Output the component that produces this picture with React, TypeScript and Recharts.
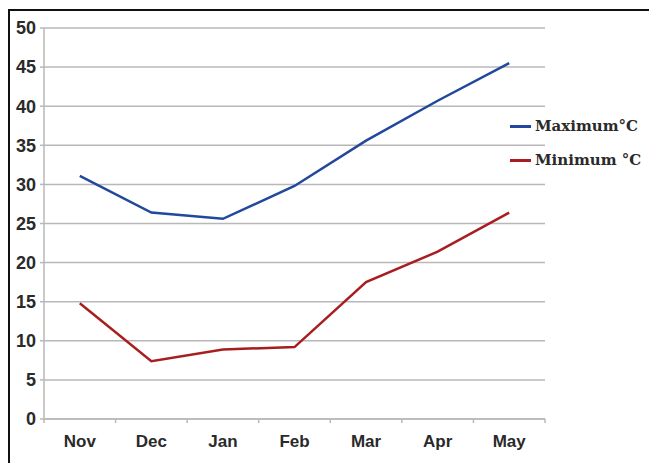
import { LineChart, Line, XAxis, YAxis, CartesianGrid } from 'recharts';

const months = ['Nov', 'Dec', 'Jan', 'Feb', 'Mar', 'Apr', 'May'];
const maxTemps = [31.1, 26.4, 25.6, 29.8, 35.6, 40.7, 45.5];
const minTemps = [14.8, 7.4, 8.9, 9.2, 17.5, 21.4, 26.4];
const yTicks = [0, 5, 10, 15, 20, 25, 30, 35, 40, 45, 50];

const series = [
  { key: 'max', name: 'Maximum°C', color: '#22489c' },
  { key: 'min', name: 'Minimum °C', color: '#a81d20' },
];

const data = months.map((m, i) => ({ month: m, max: maxTemps[i], min: minTemps[i] }));

const gridColor = '#b8b8b8';
const textColor = '#2a2a2a';
const labelFont = '"Liberation Sans", Arial, sans-serif';

// category labels centred in each band, tick marks on the band edges
function MonthTick(props: any) {
  const { x, y, payload, index, visibleTicksCount } = props;
  const half = payload.offset || 501 / 7 / 2;
  const last = index === visibleTicksCount - 1;
  return (
    <g>
      <line x1={x - half} x2={x - half} y1={y - 4} y2={y} stroke={gridColor} strokeWidth={1.5} />
      {last && <line x1={x + half} x2={x + half} y1={y - 4} y2={y} stroke={gridColor} strokeWidth={1.5} />}
      <text x={x} y={y + 24} textAnchor="middle" fill={textColor} fontFamily={labelFont} fontWeight="bold" fontSize={17}>
        {payload.value}
      </text>
    </g>
  );
}

function SideLegend() {
  return (
    <div style={{ position: 'absolute', left: 510, top: 116, display: 'flex', flexDirection: 'column', gap: 14 }}>
      {series.map((s) => (
        <div key={s.key} style={{ display: 'flex', alignItems: 'center', height: 20 }}>
          <span style={{ width: 21, height: 3, background: s.color, marginRight: 4 }} />
          <span style={{ fontFamily: '"DejaVu Serif", serif', fontWeight: 'bold', fontSize: 15, color: textColor, whiteSpace: 'nowrap' }}>
            {s.name}
          </span>
        </div>
      ))}
    </div>
  );
}

export default function App() {
  return (
    <div style={{ position: 'absolute', left: 0, top: 0, width: 649, height: 463, background: '#fff' }}>
      <div style={{ position: 'absolute', left: 8, top: 9, right: 0, bottom: 0, borderTop: '2px solid #111', borderLeft: '2px solid #111' }} />
      <LineChart width={649} height={463} data={data} margin={{ top: 28, right: 104, bottom: 0, left: 0 }}>
        <CartesianGrid horizontal vertical={false} stroke={gridColor} strokeWidth={1.5} />
        <XAxis
          dataKey="month"
          scale="band"
          height={44}
          tickSize={4}
          tickMargin={0}
          tickLine={false}
          axisLine={{ stroke: gridColor, strokeWidth: 1.5 }}
          tick={<MonthTick />}
          interval={0}
        />
        <YAxis
          width={44}
          domain={[0, 50]}
          ticks={yTicks}
          interval={0}
          tickSize={4}
          tickMargin={4}
          axisLine={{ stroke: gridColor, strokeWidth: 1.5 }}
          tickLine={{ stroke: gridColor, strokeWidth: 1.5 }}
          tick={{ fill: textColor, fontFamily: labelFont, fontWeight: 'bold', fontSize: 18 }}
        />
        {series.map((s) => (
          <Line
            key={s.key}
            type="linear"
            dataKey={s.key}
            name={s.name}
            stroke={s.color}
            strokeWidth={2.5}
            dot={false}
            activeDot={false}
            isAnimationActive={false}
          />
        ))}
      </LineChart>
      <SideLegend />
    </div>
  );
}
